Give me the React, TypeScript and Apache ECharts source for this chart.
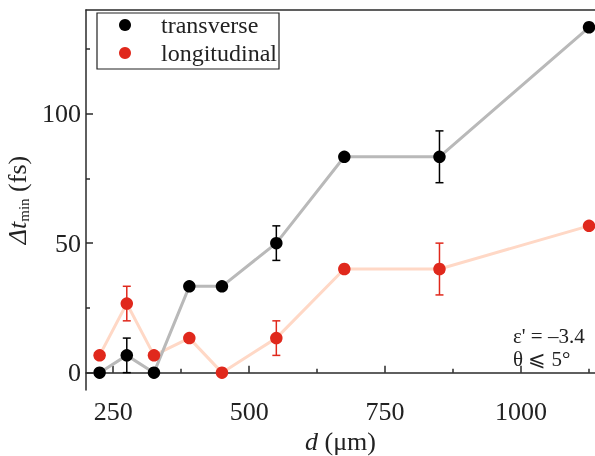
import React, { useEffect, useRef } from "react";
import * as echarts from "echarts";

const dValues = [225, 275, 325, 390, 450, 550, 675, 850, 1125];
const transverse = [0, 6.67, 0, 33.33, 33.33, 50, 83.33, 83.33, 133.33];
const transverseErr = [0, 6.67, 0, 0, 0, 6.67, 0, 10, 0];
const longitudinal = [6.67, 26.67, 6.67, 13.33, 0, 13.33, 40, 40, 56.67];
const longitudinalErr = [0, 6.67, 0, 0, 0, 6.67, 0, 10, 0];
const xMajorTicks = [250, 500, 750, 1000];
const xMinorTicks = [375, 625, 875, 1125];
const yMajorTicks = [0, 50, 100];
const yMinorTicks = [25, 75, 125];
const legendNames = ["transverse", "longitudinal"];

const FONT = "'Liberation Serif', 'DejaVu Serif', serif";
const AX = "#2a2a2a";
const RED = "#e0281c";
const PEACH = "#ffd8c6";
const GRAY = "#b9b9b9";

function pts(ys: number[]) {
  return dValues.map((d, i) => [d, ys[i]]);
}
function errs(ys: number[], es: number[]) {
  return dValues
    .map((d, i) => [d, ys[i] - es[i], ys[i] + es[i], es[i]])
    .filter((r) => r[3] > 0);
}

function errRender(color: string) {
  return (params: any, api: any) => {
    const x = api.value(0);
    const lo = api.coord([x, api.value(1)]);
    const hi = api.coord([x, api.value(2)]);
    const w = 4;
    const style = { stroke: color, lineWidth: 1.5 };
    return {
      type: "group",
      children: [
        { type: "line", shape: { x1: lo[0], y1: lo[1], x2: hi[0], y2: hi[1] }, style },
        { type: "line", shape: { x1: lo[0] - w, y1: lo[1], x2: lo[0] + w, y2: lo[1] }, style },
        { type: "line", shape: { x1: hi[0] - w, y1: hi[1], x2: hi[0] + w, y2: hi[1] }, style },
      ],
    };
  };
}

export default function App() {
  const ref = useRef<HTMLDivElement>(null);
  useEffect(() => {
    const chart = echarts.init(ref.current!, null, { renderer: "svg" });
    const xMin = 200;
    const xMax = 1136;
    const yMin = -6.7;
    const yMax = 140;
    const baseX = {
      type: "value",
      min: xMin,
      max: xMax,
      splitLine: { show: false },
    };
    const baseY = {
      type: "value",
      min: yMin,
      max: yMax,
      splitLine: { show: false },
    };
    chart.setOption({
      animation: false,
      grid: { left: 86, top: 10, right: 0, bottom: 66, containLabel: false, outerBoundsMode: "none" },
      xAxis: [
        {
          ...baseX,
          position: "bottom",
          name: "{i|d} (μm)",
          nameLocation: "middle",
          nameGap: 35,
          nameTextStyle: {
            fontFamily: FONT,
            fontSize: 26,
            color: "#222",
            rich: {
              i: { fontFamily: FONT, fontSize: 26, fontStyle: "italic", color: "#222" },
            },
          },
          axisLine: { show: true, lineStyle: { color: AX, width: 1.5 } },
          axisTick: { show: true, inside: true, length: 7, customValues: xMajorTicks, lineStyle: { color: AX, width: 1.5 } },
          axisLabel: {
            customValues: xMajorTicks,
            formatter: (v: number) => String(v),
            fontFamily: FONT,
            fontSize: 26,
            color: "#222",
            margin: 8,
          },
        },
        {
          ...baseX,
          position: "bottom",
          axisLine: { show: false },
          axisTick: { show: true, inside: true, length: 4, customValues: xMinorTicks, lineStyle: { color: AX, width: 1.5 } },
          axisLabel: { show: false },
        },
        {
          ...baseX,
          position: "top",
          axisLine: { show: true, lineStyle: { color: AX, width: 1.5 } },
          axisTick: { show: false },
          axisLabel: { show: false },
        },
      ],
      yAxis: [
        {
          ...baseY,
          position: "left",
          name: "{i|Δt}{s|min} (fs)",
          nameLocation: "middle",
          nameRotate: 90,
          nameGap: 47,
          nameTextStyle: {
            fontFamily: FONT,
            fontSize: 26,
            color: "#222",
            rich: {
              i: { fontFamily: FONT, fontSize: 26, fontStyle: "italic", color: "#222" },
              s: { fontFamily: FONT, fontSize: 15, color: "#222", padding: [12, 0, 0, 0] },
            },
          },
          axisLine: { show: true, lineStyle: { color: AX, width: 1.5 } },
          axisTick: { show: true, inside: true, length: 7, customValues: yMajorTicks, lineStyle: { color: AX, width: 1.5 } },
          axisLabel: { customValues: yMajorTicks, fontFamily: FONT, fontSize: 26, color: "#222", margin: 5 },
        },
        {
          ...baseY,
          position: "left",
          axisLine: { show: false },
          axisTick: { show: true, inside: true, length: 4, customValues: yMinorTicks, lineStyle: { color: AX, width: 1.5 } },
          axisLabel: { show: false },
        },
      ],
      series: [
        {
          type: "line",
          data: pts(longitudinal),
          symbol: "none",
          lineStyle: { color: PEACH, width: 3 },
          z: 1,
        },
        {
          type: "line",
          data: pts(transverse),
          symbol: "none",
          lineStyle: { color: GRAY, width: 3 },
          z: 1,
        },
        {
          type: "custom",
          data: errs(transverse, transverseErr),
          encode: { x: 0, y: [1, 2] },
          renderItem: errRender("#000"),
          z: 2,
        },
        {
          type: "custom",
          data: errs(longitudinal, longitudinalErr),
          encode: { x: 0, y: [1, 2] },
          renderItem: errRender(RED),
          z: 2,
        },
        {
          name: legendNames[0],
          type: "scatter",
          data: pts(transverse),
          symbol: "circle",
          symbolSize: 12.5,
          itemStyle: { color: "#000", opacity: 1 },
          z: 3,
        },
        {
          name: legendNames[1],
          type: "scatter",
          data: pts(longitudinal),
          symbol: "circle",
          symbolSize: 12.5,
          itemStyle: { color: RED, opacity: 1 },
          z: 3,
        },
      ],
      graphic: [
        {
          type: "rect",
          shape: { x: 97, y: 13, width: 182, height: 56 },
          style: { fill: "#fff", stroke: "#222", lineWidth: 1.2 },
          z: 10,
        },
        { type: "circle", shape: { cx: 125, cy: 25, r: 6 }, style: { fill: "#000" }, z: 11 },
        { type: "circle", shape: { cx: 125, cy: 53, r: 6 }, style: { fill: RED }, z: 11 },
        {
          type: "text",
          x: 161,
          y: 25,
          style: { text: legendNames[0], font: `24px ${FONT}`, fill: "#222", textVerticalAlign: "middle" },
          z: 11,
        },
        {
          type: "text",
          x: 161,
          y: 53,
          style: { text: legendNames[1], font: `24px ${FONT}`, fill: "#222", textVerticalAlign: "middle" },
          z: 11,
        },
        {
          type: "text",
          x: 513,
          y: 336,
          style: { text: "ε' = –3.4", font: `21px ${FONT}`, fill: "#222", textVerticalAlign: "middle" },
        },
        {
          type: "text",
          x: 513,
          y: 359,
          style: { text: "θ ⩽ 5°", font: `21px ${FONT}`, fill: "#222", textVerticalAlign: "middle" },
        },
      ],
    });
    return () => chart.dispose();
  }, []);
  return <div ref={ref} style={{ width: 595, height: 456, position: "fixed", left: 0, top: 0 }} />;
}
